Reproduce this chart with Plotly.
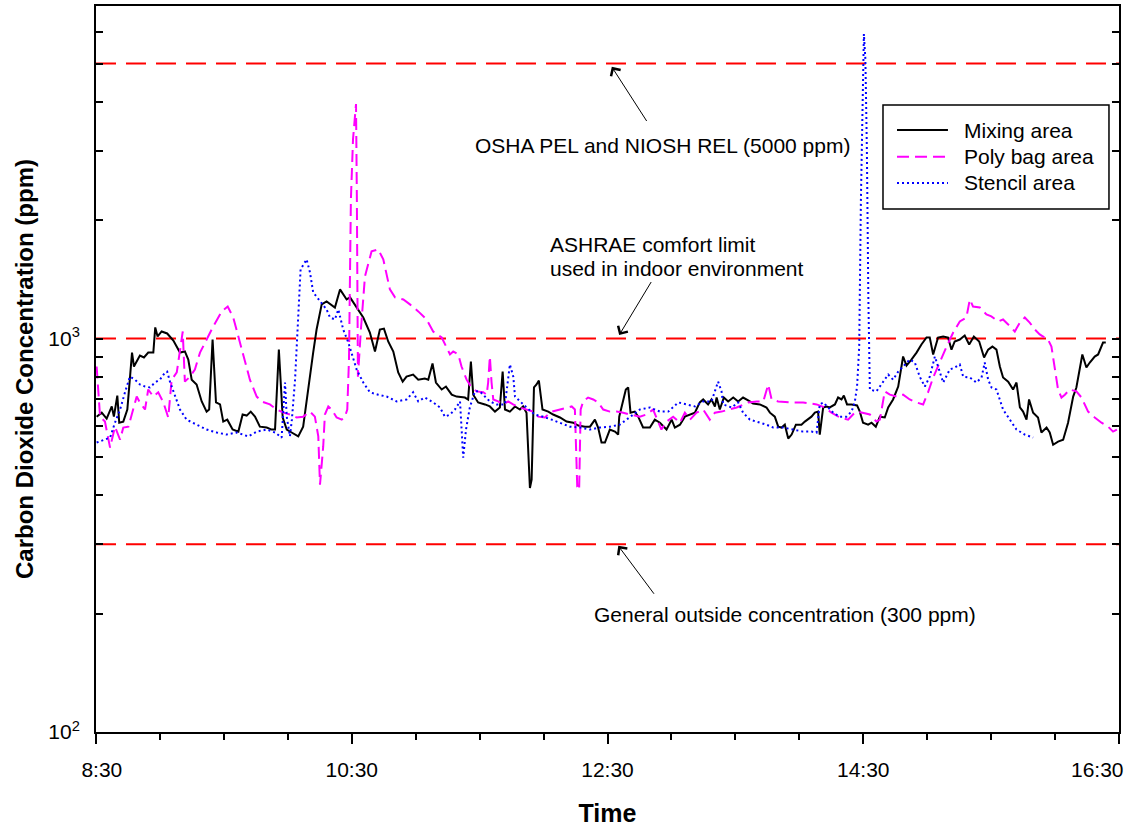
import numpy as np
import plotly.graph_objects as go

START_MIN = 8 * 60 + 30  # 8:30 in minutes since midnight

# ---- Mixing area (elapsed minutes from 8:30, CO2 ppm) ----
mix_t = [0.3, 2.7, 5.0, 7.4, 8.4, 10.0, 10.9, 12.8, 14.7, 16.9, 17.8, 20.6, 22.5, 24.5, 26.9,
         27.8, 28.9, 30.8, 33.4, 36.3, 39.4, 41.7, 43.3, 44.9, 47.2, 49.6, 51.9, 53.1, 54.7, 56.3,
         58.2, 59.7, 61.6, 64.1, 66.8, 68.8, 70.7, 72.6, 74.6, 76.9, 80.1, 82.4, 84.0, 85.8, 87.6,
         89.5, 91.8, 94.9, 97.2, 99.6, 101.9, 103.5, 105.9, 108.2, 112.1, 114.5, 117.6, 119.2, 122.3,
         125.4, 128.5, 130.9, 133.2, 135.1, 137.1, 139.5, 141.8, 143.9, 145.7, 148.8, 151.2, 154.3,
         155.9, 157.9, 159.5, 162.2, 164.2, 166.9, 169.2, 173.1, 174.6, 175.9, 177.0, 179.3, 182.5,
         184.8, 187.2, 189.5, 190.8, 191.9, 194.2, 196.6, 198.9, 200.4, 202.0, 203.6, 204.4, 205.5,
         206.7, 207.8, 209.5, 212.2, 214.5, 217.7, 220.8, 223.9, 226.3, 229.4, 231.8, 234.1, 235.6,
         237.2, 238.8, 241.1, 243.5, 245.0, 245.5, 247.1, 248.6, 249.7, 250.8, 252.8, 254.4, 256.7,
         259.9, 262.2, 264.6, 267.7, 270.1, 271.6, 274.0, 276.3, 278.7, 281.0, 283.3, 284.9, 287.2,
         288.8, 290.4, 291.2, 292.7, 294.6, 296.6, 299.0, 301.3, 303.6, 306.0, 308.3, 311.5, 314.6,
         316.2, 318.5, 320.1, 321.7, 323.2, 324.0, 324.8, 326.4, 328.4, 331.0, 332.6, 335.7, 337.3,
         338.8, 339.6, 341.2, 342.8, 344.3, 346.7, 348.2, 349.8, 350.9, 352.4, 354.5, 357.1, 358.4,
         359.9, 362.3, 363.9, 365.9, 367.8, 370.1, 371.7, 374.0, 376.4, 378.7, 380.3, 382.6, 385.0,
         387.3, 389.7, 391.2, 392.8, 395.1, 397.5, 399.8, 401.4, 402.9, 405.3, 407.6, 409.7, 411.9,
         414.4, 416.7, 418.6, 420.6, 422.5, 424.1, 425.6, 428.0, 430.3, 431.9, 433.5, 435.0, 436.6,
         437.8, 439.7, 442.0, 443.6, 446.0, 447.5, 449.1, 451.4, 453.8, 456.1, 458.5, 460.0, 462.8,
         464.7, 466.3, 468.6, 470.2, 472.5, 473.8]
mix_ppm = [633, 648, 626, 672, 633, 716, 611, 615, 660, 921, 849, 905, 895, 921, 921,
           1067, 1012, 1042, 1030, 988, 921, 927, 884, 786, 764, 692, 652, 660, 994, 688,
           680, 615, 622, 587, 580, 641, 637, 652, 633, 597, 594, 587, 587, 937, 630,
           587, 577, 564, 597, 755, 921, 1054, 1221, 1242, 1199, 1333, 1257, 1272, 1199,
           1131, 1036, 927, 1054, 1060, 983, 927, 820, 777, 800, 810, 786, 791,
           786, 864, 773, 742, 755, 720, 712, 708, 700, 874, 720, 688, 680,
           672, 652, 668, 824, 660, 652, 672, 660, 672, 648, 417, 438, 751,
           764, 782, 660, 652, 641, 630, 615, 611, 601, 597, 597, 622, 594,
           544, 544, 587, 580, 570, 633, 692, 742, 751, 648, 652, 633, 594,
           594, 622, 611, 587, 622, 594, 604, 633, 641, 648, 688, 700, 680,
           700, 672, 708, 660, 708, 692, 708, 692, 708, 696, 684, 680, 668,
           648, 633, 597, 594, 604, 580, 557, 570, 604, 604, 615, 633, 648,
           652, 570, 668, 672, 668, 680, 708, 700, 716, 680, 680, 676, 652,
           611, 604, 611, 597, 633, 630, 668, 700, 755, 900, 854, 884, 921,
           966, 1006, 1006, 911, 1006, 1012, 1006, 937, 983, 994, 1018, 966, 1012,
           983, 895, 937, 954, 937, 849, 796, 777, 742, 773, 668, 652, 622,
           700, 648, 630, 577, 594, 577, 537, 547, 553, 611, 712, 751, 911,
           844, 869, 900, 911, 977, 977]

# ---- Poly bag area ----
poly_t = [0.3, 1.9, 4.2, 6.6, 8.9, 11.3, 12.8, 15.2, 19.1, 20.6, 23.0, 24.5, 26.9, 29.2, 31.6,
          33.9, 35.5, 37.9, 40.7, 41.7, 44.1, 46.4, 48.8, 51.9, 55.0, 59.0, 61.8, 64.4, 67.5, 69.9,
          72.2, 75.4, 77.7, 81.6, 84.8, 87.9, 91.0, 94.1, 97.2, 100.4, 102.7, 104.3, 105.1, 106.6,
          107.4, 109.0, 110.6, 112.9, 115.3, 116.8, 117.9, 118.7, 119.6, 120.6, 122.0, 122.4, 122.9,
          124.3, 126.2, 129.3, 132.4, 134.8, 137.9, 140.3, 144.2, 147.3, 151.2, 155.1, 158.2, 162.2,
          164.5, 166.1, 167.6, 170.0, 171.5, 173.9, 176.2, 178.6, 181.7, 183.3, 184.0, 184.8, 185.6,
          186.4, 188.7, 191.1, 193.4, 195.7, 198.9, 202.0, 205.1, 207.5, 210.6, 213.8, 217.7, 220.8,
          223.2, 224.7, 225.8, 226.7, 227.4, 228.6, 230.9, 233.3, 235.6, 238.0, 241.1, 244.3, 247.4,
          250.5, 255.2, 258.3, 261.4, 265.3, 267.7, 270.8, 274.0, 276.3, 278.7, 281.8, 284.9, 288.0,
          290.4, 293.5, 297.4, 300.6, 306.0, 310.0, 313.1, 315.4, 317.0, 320.1, 325.6, 331.8, 338.1,
          342.0, 345.1, 349.0, 352.9, 356.0, 357.6, 363.1, 366.2, 367.8, 370.1, 372.5, 375.6, 378.7,
          381.8, 385.0, 388.1, 390.4, 392.8, 395.9, 399.1, 402.2, 405.3, 408.4, 410.0, 411.5, 414.7,
          417.8, 420.1, 423.3, 425.6, 428.0, 431.1, 433.5, 435.8, 438.1, 440.5, 442.8, 446.7, 448.3,
          449.9, 451.4, 453.0, 454.6, 456.9, 460.0, 462.4, 465.5, 468.6, 471.8, 474.9, 477.2, 479.0]
poly_ppm = [849, 633, 615, 528, 597, 553, 594, 597, 712, 688, 660, 742, 712, 730, 688,
            630, 786, 820, 1042, 777, 800, 834, 921, 994, 1073, 1172, 1206, 1131, 977, 869,
            786, 712, 692, 680, 660, 648, 641, 630, 633, 652, 633, 564, 425, 531,
            641, 672, 660, 630, 622, 633, 660, 884, 2259, 3212, 3944, 2259, 800,
            1054, 1439, 1665, 1685, 1589, 1333, 1272, 1257, 1221, 1172, 1118, 1042, 1006,
            954, 911, 927, 911, 849, 786, 751, 734, 730, 720, 773, 900, 773,
            700, 692, 680, 692, 680, 668, 660, 652, 633, 630, 652, 660, 668,
            672, 660, 420, 412, 660, 692, 708, 700, 688, 660, 652, 652, 648,
            641, 633, 641, 660, 587, 615, 633, 611, 648, 622, 648, 660, 622,
            648, 652, 660, 668, 688, 692, 692, 764, 700, 692, 688, 688, 680,
            668, 648, 630, 622, 648, 652, 641, 615, 622, 734, 720, 712, 720,
            700, 688, 680, 730, 796, 874, 954, 1036, 1105, 1131, 1257, 1206, 1199,
            1151, 1138, 1105, 1118, 1086, 1042, 1098, 1131, 1098, 1054, 1024, 994, 954,
            849, 742, 708, 720, 742, 734, 708, 652, 630, 611, 597, 580, 587]

# ---- Stencil area ----
sten_t = [0.3, 3.4, 6.6, 8.9, 11.3, 13.6, 15.9, 18.3, 20.6, 23.0, 25.3, 27.7, 30.0, 32.4, 33.4,
          34.7, 37.1, 39.4, 42.5, 47.2, 51.9, 56.6, 61.3, 66.0, 71.4, 75.4, 80.1, 84.0, 87.1, 88.7,
          89.5, 91.0, 91.9, 93.4, 94.9, 96.0, 98.8, 100.4, 101.9, 105.1, 108.2, 109.8, 112.1, 113.7,
          116.0, 118.4, 120.7, 122.3, 125.4, 128.5, 132.4, 136.4, 141.1, 145.7, 148.8, 151.2, 154.3,
          158.2, 161.4, 163.7, 166.1, 168.4, 170.8, 172.3, 173.6, 175.4, 177.8, 180.1, 182.5, 184.8,
          188.0, 191.9, 194.2, 195.8, 196.6, 198.9, 202.0, 205.9, 209.8, 213.8, 217.7, 222.4, 227.0,
          231.8, 236.4, 241.1, 245.8, 250.5, 255.2, 259.9, 264.6, 268.5, 273.2, 277.1, 281.0, 284.9,
          288.8, 291.9, 293.5, 294.3, 298.2, 301.3, 303.6, 306.8, 309.9, 314.6, 317.7, 322.4, 327.1,
          331.8, 335.7, 338.1, 339.6, 341.2, 343.5, 345.9, 349.0, 352.1, 354.5, 356.0, 357.1, 358.1,
          358.9, 359.8, 360.3, 361.0, 361.7, 362.4, 363.1, 366.2, 369.3, 371.7, 374.0, 376.4, 378.7,
          381.8, 384.2, 386.5, 388.9, 391.2, 393.6, 395.1, 397.5, 400.6, 403.0, 405.3, 406.9, 410.0,
          413.1, 415.5, 417.0, 418.6, 420.2, 422.5, 425.6, 428.8, 431.9, 435.8, 439.7]
sten_ppm = [544, 553, 560, 611, 660, 730, 800, 786, 764, 755, 751, 773, 786, 820, 824,
            777, 712, 660, 622, 604, 587, 577, 570, 577, 564, 580, 587, 577, 560, 773,
            633, 564, 622, 786, 1165, 1499, 1589, 1473, 1310, 1242, 1185, 1131, 1118, 1185,
            1054, 977, 884, 834, 773, 730, 720, 712, 692, 700, 730, 692, 708,
            688, 668, 633, 641, 660, 692, 498, 587, 668, 734, 734, 712, 692,
            680, 680, 859, 800, 712, 692, 668, 641, 633, 622, 611, 597, 594,
            587, 594, 597, 604, 633, 660, 668, 652, 652, 688, 680, 672, 692,
            692, 777, 734, 680, 668, 688, 648, 622, 615, 604, 594, 594, 587,
            580, 580, 577, 680, 688, 668, 648, 633, 633, 652, 688, 755, 954,
            2259, 4566, 5944, 5133, 3029, 1257, 742, 734, 773, 810, 786, 824, 849,
            884, 869, 800, 755, 800, 900, 849, 773, 834, 844, 859, 800, 796,
            773, 796, 869, 786, 751, 742, 660, 622, 587, 570, 560]

# ---- Reference limits ----
limit_ppm = [5000, 1000, 300]

# ---- Axis ticks ----
NBSP = "\u00a0"
major_clock = [START_MIN + 120 * i for i in range(5)]
major_labels = ["8:30", "10:30", "12:30", "14:30", "16:30"]
# the last label is set as an annotation so it can sit inside the page edge
tick_labels = [NBSP * 2 + major_labels[0]] + major_labels[1:4] + [""]
minor_clock = [m for m in range(START_MIN + 30, START_MIN + 480, 30) if m not in major_clock]
y_tickvals = [100, 200, 300, 400, 500, 600, 700, 800, 900,
              1000, 2000, 3000, 4000, 5000, 6000, 7000]
y_ticktext = ["10<sup>2</sup>"] + [""] * 8 + ["10<sup>3</sup>"] + [""] * 6

FONT = "Liberation Sans, Arial, sans-serif"

series = [
    ("Mixing area", mix_t, mix_ppm, dict(color="black", width=2)),
    ("Poly bag area", poly_t, poly_ppm, dict(color="#ff00ff", width=2, dash="12px,6px")),
    ("Stencil area", sten_t, sten_ppm, dict(color="#0000ff", width=2, dash="2px,3px")),
]

fig = go.Figure()

# horizontal reference lines
for lv in limit_ppm:
    fig.add_trace(go.Scatter(
        x=[START_MIN, START_MIN + 480], y=[lv, lv], mode="lines",
        line=dict(color="#ff0000", width=2, dash="20px,10px"),
        showlegend=False, hoverinfo="skip"))

for name, t, ppm, line in series:
    fig.add_trace(go.Scatter(
        x=[START_MIN + v for v in t], y=ppm, mode="lines", name=name,
        line=line, showlegend=False))

annotations = []
shapes = []

# arrows pointing at the reference lines
arrow_style = dict(showarrow=True, arrowhead=4, arrowsize=2.2, arrowwidth=1,
                   arrowcolor="black", text="", xref="x", yref="y", axref="pixel",
                   ayref="pixel")
annotations.append(dict(x=START_MIN + 241, y=np.log10(5000), ax=38, ay=59,
                        standoff=4, **arrow_style))
annotations.append(dict(x=START_MIN + 244.5, y=np.log10(1000), ax=35, ay=-58,
                        standoff=4, **arrow_style))
annotations.append(dict(x=START_MIN + 244.5, y=np.log10(300), ax=38, ay=51,
                        standoff=2, **arrow_style))

text_style = dict(showarrow=False, xref="paper", yref="paper",
                  font=dict(family=FONT, size=21, color="black"))
annotations.append(dict(x=0.5538, y=0.8085, text="OSHA PEL and NIOSH REL (5000 ppm)",
                        xanchor="center", yanchor="middle", **text_style))
annotations.append(dict(x=0.4418, y=0.6710, text="ASHRAE comfort limit",
                        xanchor="left", yanchor="middle", **text_style))
annotations.append(dict(x=0.4418, y=0.6380, text="used in indoor environment",
                        xanchor="left", yanchor="middle", **text_style))
annotations.append(dict(x=0.6735, y=0.1612, text="General outside concentration (300 ppm)",
                        xanchor="center", yanchor="middle", **text_style))

# final time label, right-aligned just past the axis end
annotations.append(dict(x=1.0, y=0.0, text=major_labels[-1], xanchor="right",
                        yanchor="middle", xshift=7, yshift=-37, **text_style))

# legend box with line samples and labels
LEG_X0, LEG_X1, LEG_Y0, LEG_Y1 = 0.7693, 0.9902, 0.7204, 0.8636
shapes.append(dict(type="rect", xref="paper", yref="paper", x0=LEG_X0, x1=LEG_X1,
                   y0=LEG_Y0, y1=LEG_Y1, line=dict(color="black", width=1.5),
                   fillcolor="white", layer="above"))
row_y = [0.8292, 0.7925, 0.7562]
for (name, _, _, line), ry in zip(series, row_y):
    shapes.append(dict(type="line", xref="paper", yref="paper", x0=0.7830, x1=0.8328,
                       y0=ry, y1=ry, line=line, layer="above"))
    annotations.append(dict(x=0.8465, y=ry, text=name, xanchor="left", yanchor="middle",
                            **text_style))

fig.update_layout(
    width=1131, height=827,
    margin=dict(l=96, r=12, t=6, b=95, autoexpand=False),
    paper_bgcolor="white", plot_bgcolor="white",
    font=dict(family=FONT, size=21, color="black"),
    showlegend=False,
    annotations=annotations,
    shapes=shapes,
)

fig.update_xaxes(
    range=[START_MIN, START_MIN + 480], automargin=False,
    tickmode="array", tickvals=major_clock, ticktext=tick_labels,
    ticks="outside", ticklen=10, tickwidth=1.5, tickcolor="black",
    ticklabelstandoff=8,
    minor=dict(tickmode="array", tickvals=minor_clock, ticks="outside",
               ticklen=6, tickwidth=1.5, tickcolor="black"),
    showline=True, linecolor="black", linewidth=2, mirror=True,
    showgrid=False, zeroline=False,
    tickfont=dict(family=FONT, size=21, color="black"),
    title=dict(text=NBSP * 2 + "Time",
               font=dict(family=FONT, size=25, color="black", weight="bold"),
               standoff=27),
)
fig.update_yaxes(
    type="log", range=[2, np.log10(7000)], automargin=False,
    tickmode="array", tickvals=y_tickvals, ticktext=y_ticktext,
    ticks="inside", ticklen=7, tickwidth=1.5, tickcolor="black",
    ticklabelstandoff=10,
    showline=True, linecolor="black", linewidth=2, mirror="ticks",
    showgrid=False, zeroline=False,
    tickfont=dict(family=FONT, size=21, color="black"),
    title=dict(text="Carbon Dioxide Concentration (ppm)",
               font=dict(family=FONT, size=24, color="black", weight="bold"),
               standoff=8),
)

fig.write_html("out.html")
